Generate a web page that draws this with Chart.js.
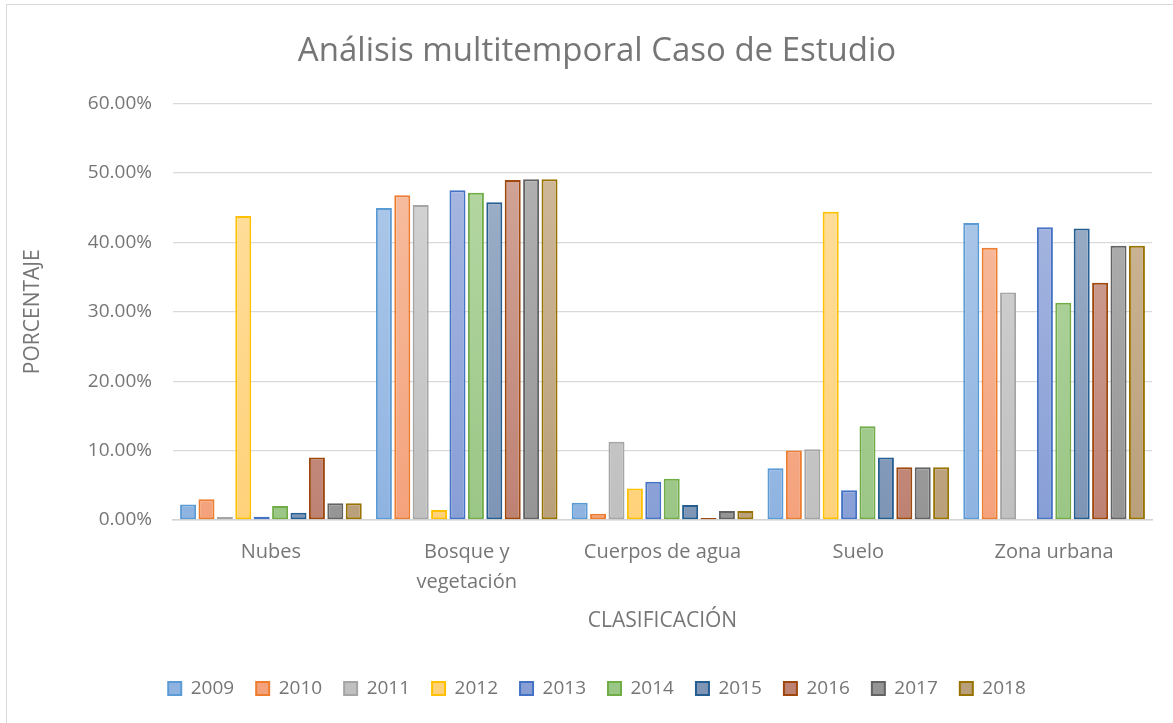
<!DOCTYPE html>
<html>
<head>
<meta charset="utf-8">
<title>Análisis multitemporal</title>
<script src="https://cdn.jsdelivr.net/npm/chart.js@4/dist/chart.umd.min.js"></script>
<style>
    body { margin: 0; background: #ffffff; overflow: hidden; }
    #frame {
        position: absolute;
        left: 6px;
        top: 4px;
        border-left: 1px solid #d9d9d9;
        border-top: 1px solid #d9d9d9;
    }
    canvas { display: block; }
</style>
</head>
<body>
<div id="frame">
    <canvas id="multitemporalChart" width="1180" height="718"></canvas>
</div>
<script>
// Categories of land cover
var categories = ['Nubes', ['Bosque y', 'vegetación'], 'Cuerpos de agua', 'Suelo', 'Zona urbana'];

// Years shown in the legend
var years = ['2009', '2010', '2011', '2012', '2013', '2014', '2015', '2016', '2017', '2018'];

// Percentage per category, one array per year
var values2009 = [2.25, 44.95, 2.5, 7.47, 42.8];
var values2010 = [3.0, 46.8, 0.9, 10.0, 39.24];
var values2011 = [0.43, 45.4, 11.26, 10.2, 32.77];
var values2012 = [43.8, 1.44, 4.55, 44.4, null];
var values2013 = [0.48, 47.5, 5.5, 4.3, 42.2];
var values2014 = [2.0, 47.15, 5.94, 13.5, 31.3];
var values2015 = [1.05, 45.8, 2.16, 9.0, 42.0];
var values2016 = [9.0, 49.0, 0.29, 7.6, 34.2];
var values2017 = [2.4, 49.1, 1.3, 7.6, 39.5];
var values2018 = [2.4, 49.1, 1.3, 7.6, 39.5];

// Y axis range and step
var yMax = 60;
var yStep = 10;

var seriesValues = [values2009, values2010, values2011, values2012, values2013,
                    values2014, values2015, values2016, values2017, values2018];

// Outline colour and light/dark gradient fill for each year
var borderColors = ['#5b9bd5', '#ed7d31', '#a5a5a5', '#ffc000', '#4472c4',
                    '#70ad47', '#255e91', '#9e480e', '#636363', '#997300'];
var lightFills = ['#b3cdeb', '#f7c2a6', '#d6d6d6', '#ffe0a3', '#adbbe2',
                  '#badaa8', '#a3b4cb', '#d4aa9f', '#b6b6b6', '#d2bc9e'];
var darkFills = ['#8fb3e1', '#f4a27c', '#c0c0c0', '#ffd27a', '#889fd6',
                 '#9ac686', '#7e95b6', '#be8273', '#959595', '#b9a07a'];

var textColor = '#767676';
var fontFamily = "'Open Sans', 'Noto Sans', sans-serif";

function gradientFill(index) {
    return function(context) {
        var chart = context.chart;
        var area = chart.chartArea;
        if (!area) {
            return darkFills[index];
        }
        var gradient = chart.ctx.createLinearGradient(0, area.top, 0, area.bottom);
        gradient.addColorStop(0, lightFills[index]);
        gradient.addColorStop(1, darkFills[index]);
        return gradient;
    };
}

function buildDatasets() {
    return years.map(function(year, i) {
        return {
            label: year,
            data: seriesValues[i],
            backgroundColor: gradientFill(i),
            borderColor: borderColors[i],
            borderWidth: 2,
            borderSkipped: false,
            categoryPercentage: 0.94,
            barPercentage: 0.87
        };
    });
}

function createMultitemporalChart() {
    var ctx = document.getElementById('multitemporalChart').getContext('2d');
    var chart = new Chart(ctx, {
        type: 'bar',
        data: {
            labels: categories,
            datasets: buildDatasets()
        },
        options: {
            responsive: false,
            animation: false,
            layout: {
                padding: { left: 0, right: 0, top: 0, bottom: 15 }
            },
            scales: {
                x: {
                    afterFit: function(scale) { scale.height = 137; },
                    grid: { display: false, drawTicks: false },
                    border: { display: true, color: '#d4d4d4', width: 1.5 },
                    ticks: {
                        color: textColor,
                        padding: 17,
                        font: { family: fontFamily, size: 20, lineHeight: 1.5 }
                    },
                    title: {
                        display: true,
                        text: 'CLASIFICACIÓN',
                        color: textColor,
                        font: { family: fontFamily, size: 21 },
                        padding: { top: 10, bottom: 23 }
                    }
                },
                y: {
                    min: 0,
                    max: yMax,
                    afterFit: function(scale) { scale.width = 166; },
                    grid: { color: '#d9d9d9', lineWidth: 1.3, drawTicks: false },
                    border: { display: false },
                    ticks: {
                        stepSize: yStep,
                        color: textColor,
                        padding: 21,
                        font: { family: fontFamily, size: 19 },
                        callback: function(value) { return value.toFixed(2) + '%'; }
                    },
                    title: {
                        display: true,
                        text: 'PORCENTAJE',
                        color: textColor,
                        font: { family: fontFamily, size: 21 },
                        padding: { top: 13, bottom: 0 }
                    }
                },
                // empty axis on the right keeps the plot clear of the frame edge
                yRight: {
                    position: 'right',
                    display: true,
                    afterFit: function(scale) { scale.width = 35; },
                    grid: { display: false },
                    border: { display: false },
                    ticks: { display: false }
                }
            },
            plugins: {
                title: {
                    display: true,
                    text: 'Análisis multitemporal Caso de Estudio',
                    color: textColor,
                    font: { family: fontFamily, size: 33, weight: 'normal' },
                    padding: { top: 27, bottom: 32 }
                },
                legend: {
                    position: 'bottom',
                    labels: {
                        color: textColor,
                        boxWidth: 13,
                        boxHeight: 13,
                        padding: 22,
                        font: { family: fontFamily, size: 19 }
                    }
                },
                tooltip: {
                    callbacks: {
                        label: function(tooltipItem) {
                            return tooltipItem.dataset.label + ': ' + tooltipItem.raw.toFixed(2) + '%';
                        }
                    }
                }
            }
        }
    });
    return chart;
}

createMultitemporalChart();
</script>
</body>
</html>
